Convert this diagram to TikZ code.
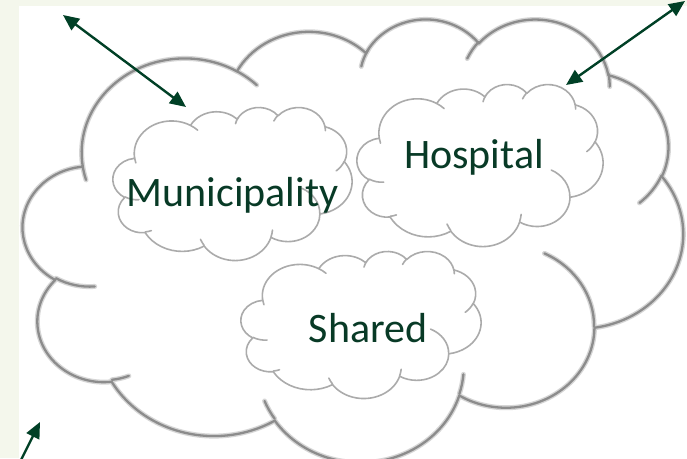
\documentclass[tikz,border=0pt]{standalone}
\usepackage{fontspec}
\setmainfont{Carlito}
\usetikzlibrary{arrows.meta}
\definecolor{stripbg}{HTML}{F4F7EC}
\definecolor{darkgreen}{RGB}{0,64,38}
\definecolor{textgreen}{RGB}{8,58,38}
\definecolor{bigcloudhalo}{HTML}{D6D6D6}
\definecolor{bigcloudline}{HTML}{8C8C8C}
\definecolor{smallcloudline}{HTML}{ABABAB}

% ---- Office-style cloud, drawn from its preset geometry (43200 x 43200 units)
\newcommand\CloudFrame[4]{\def\cx{#1}\def\cy{#2}\def\cw{#3}\def\ch{#4}}
\newcommand\Cmove[2]{%
  \edef\mpx{\fpeval{round(\cx+(#1)*\cw/43200,3)}}%
  \edef\mpy{\fpeval{round(-\cy-(#2)*\ch/43200,3)}}%
  \pgfpathmoveto{\pgfqpoint{\mpx pt}{\mpy pt}}}
\newcommand\Carc[4]{% wR hR stAng swAng (degrees, y down, visual angles in shape units)
  \edef\ra{\fpeval{(#1)*\cw/43200}}%
  \edef\rb{\fpeval{(#2)*\ch/43200}}%
  \edef\tha{\fpeval{-(#3)}}%
  \edef\thb{\fpeval{-((#3)+(#4))}}%
  \edef\ta{\fpeval{atand((#1)*sind(\tha),(#2)*cosd(\tha))}}%
  \edef\tb{\fpeval{atand((#1)*sind(\thb),(#2)*cosd(\thb))}}%
  \edef\dt{\fpeval{\tb-\ta}}%
  \edef\dt{\fpeval{\dt+360*round((-(#4)-\dt)/360)}}%
  \edef\te{\fpeval{round(\ta+\dt,4)}}%
  \edef\ts{\fpeval{round(\ta,4)}}%
  \edef\rA{\fpeval{round(\ra,3)}}%
  \edef\rB{\fpeval{round(\rb,3)}}%
  \pgfpatharc{\ts}{\te}{\rA pt and \rB pt}}
\newcommand\CloudShape{%
  \Cmove{3900}{14370}%
  \Carc{6753}{9190}{-190.487483}{123.780533}%
  \Carc{5333}{7267}{-144.102383}{89.945233}%
  \Carc{4365}{5945}{-145.807917}{99.723017}%
  \Carc{4857}{6595}{-130.986067}{117.241733}%
  \Carc{5333}{7273}{-78.708883}{109.026917}%
  \Carc{6775}{9220}{-46.26725}{130.269}%
  \Carc{5785}{7867}{0.625017}{114.033333}%
  \Carc{6752}{9215}{22.4516}{115.17255}%
  \Carc{7720}{10543}{66.242633}{75.711017}%
  \Carc{4360}{5918}{-274.942083}{146.735567}%
  \Carc{4345}{5945}{-246.8285}{152.51885}%
  \pgfpathclose}
\newcommand\CloudTails{%
  \Cmove{4693}{26177}\Carc{4345}{5945}{86.742}{26.4295}%
  \Cmove{6928}{34899}\Carc{4360}{5918}{73.610467}{11.447467}%
  \Cmove{16478}{39090}\Carc{6752}{9215}{137.62415}{14.0811}%
  \Cmove{28827}{34751}\Carc{6752}{9215}{6.453267}{15.99835}%
  \Cmove{34129}{22954}\Carc{5785}{7867}{-70.29235}{70.917367}%
  \Cmove{41798}{15354}\Carc{5333}{7273}{30.318033}{27.7515}%
  \Cmove{38324}{5426}\Carc{4857}{6595}{-13.744333}{14.8589}%
  \Cmove{29078}{3952}\Carc{4857}{6595}{-149.18145}{18.195367}%
  \Cmove{22141}{4720}\Carc{4365}{5945}{-163.494267}{20.583833}%
  \Cmove{14000}{5192}\Carc{6753}{9190}{-66.70695}{12.31935}%
  \Cmove{4127}{15789}\Carc{6753}{9190}{157.65435}{11.853933}}
% #1 x, #2 y (top, pixels down), #3 w, #4 h, #5 line width, #6 colour, #7 use
\newcommand\DrawCloud[7]{%
  \CloudFrame{#1}{#2}{#3}{#4}%
  \begin{pgfscope}
    \pgfsetlinewidth{#5}\pgfsetstrokecolor{#6}\pgfsetfillcolor{white}%
    \pgfsetroundjoin\pgfsetroundcap
    \CloudShape\pgfusepath{#7}%
    \CloudTails\pgfusepath{stroke}%
  \end{pgfscope}}

\tikzset{
  arrowline/.style={draw=darkgreen, line width=2.4pt},
  twohead/.style={arrowline, {Triangle[length=16pt,width=14pt]}-{Triangle[length=16pt,width=14pt]}},
  onehead/.style={arrowline, -{Triangle[length=16pt,width=14pt]}},
  cloudlabel/.style={text=textgreen, inner sep=0pt, anchor=base, font=\fontsize{42}{50}\selectfont}
}

\begin{document}
\begin{tikzpicture}[x=1pt, y=-1pt]
  \useasboundingbox (0,0) rectangle (687,458);
  \fill[stripbg] (0,0) rectangle (687,458);
  \fill[white] (19,6) rectangle (687,458);

  % big cloud (soft edge + line)
  \DrawCloud{23}{18}{660}{443}{5pt}{bigcloudhalo}{fill,stroke}
  \DrawCloud{23}{18}{660}{443}{2.3pt}{bigcloudline}{stroke}

  % small clouds
  \DrawCloud{113}{107}{239}{153}{1.6pt}{smallcloudline}{fill,stroke}
  \DrawCloud{357}{84}{246}{162}{1.6pt}{smallcloudline}{fill,stroke}
  \DrawCloud{241}{251}{240}{147}{1.6pt}{smallcloudline}{fill,stroke}

  \node[cloudlabel] (muni) at (232.5,206) {Municipality};
  \node[cloudlabel] (hosp) at (474,168) {Hospital};
  \node[cloudlabel] (shared) at (368,342) {Shared};

  \coordinate (a1s) at (63,15);
  \coordinate (a1e) at (186,107);
  \coordinate (a2s) at (685,1);
  \coordinate (a2e) at (566,85);
  \coordinate (a3s) at (18.5,465);
  \coordinate (a3e) at (40,422);
  \draw[twohead] (a1s) -- (a1e);
  \draw[twohead] (a2s) -- (a2e);
  \draw[onehead] (a3s) -- (a3e);
\end{tikzpicture}
\end{document}
